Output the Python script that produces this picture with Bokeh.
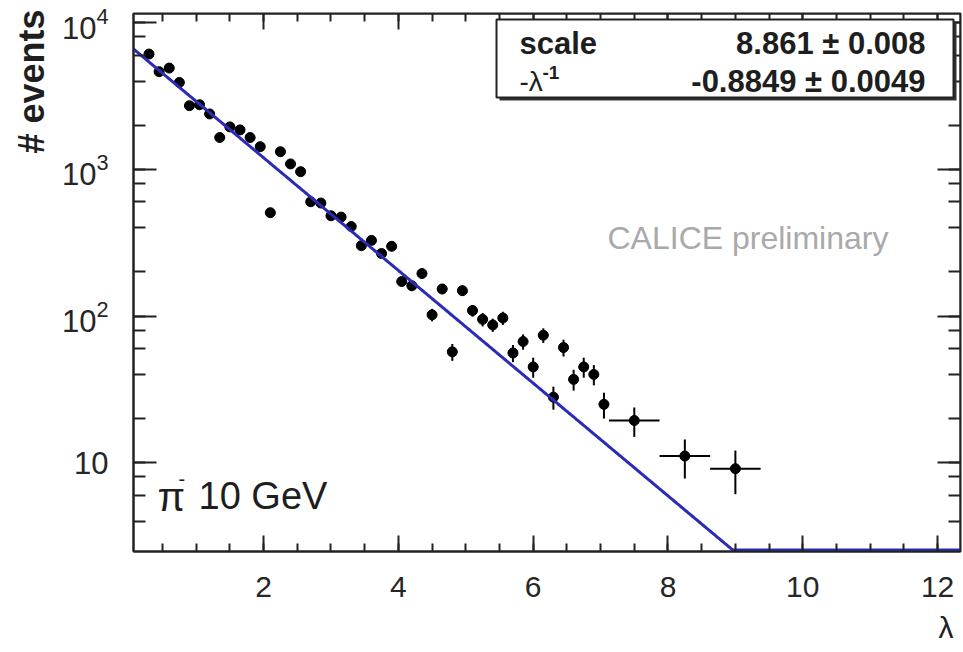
import math
import numpy as np
from bokeh.plotting import figure
from bokeh.models import (Range1d, LinearAxis, LogAxis, LogTicker, SingleIntervalTicker,
                          LogTickFormatter, Label, BoxAnnotation, CustomLabelingPolicy, Title)
from bokeh.embed import file_html
from bokeh.resources import INLINE

# ---------------- data ----------------
lam = [0.30, 0.45, 0.60, 0.75, 0.90, 1.05, 1.20, 1.35, 1.50, 1.65,
       1.80, 1.95, 2.10, 2.25, 2.40, 2.55, 2.70, 2.85, 3.00, 3.15,
       3.30, 3.45, 3.60, 3.75, 3.90, 4.05, 4.20, 4.35, 4.50, 4.65,
       4.80, 4.95, 5.10, 5.25, 5.40, 5.55, 5.70, 5.85, 6.00, 6.15,
       6.30, 6.45, 6.60, 6.75, 6.90, 7.05, 7.50, 8.25, 9.00]
events = [6120, 4640, 4910, 3920, 2720, 2760, 2390, 1650, 1950, 1860,
          1650, 1430, 507, 1320, 1090, 965, 602, 590, 483, 473,
          408, 302, 328, 267, 299, 172, 161, 195, 102, 153,
          57, 149, 109, 95, 87, 97, 56, 67, 45, 74,
          28, 61, 37, 45, 40, 25, 19.4, 11.1, 9.1]
events_err = [78, 68, 70, 63, 52, 53, 49, 41, 44, 43,
              41, 38, 23, 36, 33, 31, 25, 24, 22, 22,
              20, 17, 18, 16, 17, 13, 13, 14, 10, 12,
              7.5, 12, 10, 10, 9, 10, 7.5, 8, 7, 8.5,
              5.0, 8, 6, 7, 6.3, 5, 4.4, 3.3, 3.0]
bin_half_width = [0.075] * 46 + [0.375] * 3

# fit result shown in the stats box
fit_scale = 8.861
fit_scale_err = 0.008
fit_slope = -0.8849
fit_slope_err = 0.0049

x_ticks_major_step = 2
x_lo, x_hi = 0.07, 12.34
y_lo, y_hi = 2.48, 11570.0

# ---------------- figure ----------------
FONT = "Liberation Sans"
W, H = 963, 652
FL, FR, FT, FB = 133.0, 960.0, 13.0, 551.0
p = figure(width=W, height=H, x_range=Range1d(x_lo, x_hi), y_range=Range1d(y_lo, y_hi),
           y_axis_type="log", output_backend="svg", toolbar_location=None,
           min_border_left=int(FL), min_border_right=int(W - FR), min_border_top=int(FT),
           min_border_bottom=int(H - FB),
           background_fill_color="white", border_fill_color="white")
p.grid.visible = False
p.outline_line_color = "#222222"
p.outline_line_width = 2

LLO, LHI = math.log10(y_lo), math.log10(y_hi)
def px2x(px):
    return x_lo + (px - FL) / (FR - FL) * (x_hi - x_lo)
def py2y(py):
    return 10 ** (LHI - (py - FT) / (FB - FT) * (LHI - LLO))

AX_COL = "#222222"
LBL_COL = "#262626"
NO_LABELS = CustomLabelingPolicy(code="if (false) { yield 0 }")

def style_common(ax):
    ax.axis_line_color = AX_COL
    ax.axis_line_width = 2
    ax.major_tick_line_color = AX_COL
    ax.minor_tick_line_color = AX_COL
    ax.major_tick_line_width = 2
    ax.minor_tick_line_width = 2
    ax.major_tick_out = 0
    ax.minor_tick_out = 0

def style_x(ax, labels=True):
    ax.ticker = SingleIntervalTicker(interval=x_ticks_major_step, num_minor_ticks=4)
    style_common(ax)
    ax.major_tick_in = 16
    ax.minor_tick_in = 8
    if labels:
        ax.major_label_text_font = FONT
        ax.major_label_text_font_size = "30px"
        ax.major_label_text_color = LBL_COL
        ax.major_label_standoff = 25
    else:
        ax.major_label_policy = NO_LABELS
        ax.major_label_standoff = 0

def style_y(ax, labels=True):
    ax.ticker = LogTicker()
    style_common(ax)
    ax.major_tick_in = 23
    ax.minor_tick_in = 12
    if labels:
        ax.formatter = LogTickFormatter()
        ax.major_label_overrides = {10: "10"}
        ax.major_label_text_font = FONT
        ax.major_label_text_font_size = "31px"
        ax.major_label_text_color = LBL_COL
        ax.major_label_standoff = 25
    else:
        ax.major_label_policy = NO_LABELS
        ax.major_label_standoff = 0

style_x(p.xaxis[0])
style_y(p.yaxis[0])
top_ax = LinearAxis(fixed_location=y_hi)
style_x(top_ax, labels=False)
p.add_layout(top_ax, "above")
right_ax = LogAxis(fixed_location=x_hi)
style_y(right_ax, labels=False)
p.add_layout(right_ax, "right")

# axis titles, placed at the far ends like ROOT does
p.add_layout(Title(text="# events", align="right", text_font=FONT, text_font_size="36px",
                   text_font_style="bold", text_color="#1e1e1e", offset=-4, standoff=14), "left")
p.add_layout(Title(text="\u03bb", align="right", text_font=FONT, text_font_size="30px",
                   text_font_style="normal", text_color="#1e1e1e", offset=7, standoff=18),
             "below")

# ---------------- data points with error bars ----------------
lam_a = np.array(lam)
ev_a = np.array(events)
er_a = np.array(events_err)
hw_a = np.array(bin_half_width)

p.segment(x0=lam_a, y0=ev_a - er_a, x1=lam_a, y1=ev_a + er_a, line_color="black", line_width=2)
p.segment(x0=lam_a - hw_a, y0=ev_a, x1=lam_a + hw_a, y1=ev_a, line_color="black", line_width=2)
p.scatter(lam_a, ev_a, size=10, marker="circle", fill_color="black", line_color="black")

# ---------------- fit line (clipped to the frame floor like ROOT) ----------------
xf = np.linspace(x_lo, x_hi, 600)
yf = np.exp(fit_scale + fit_slope * xf)
yf = np.maximum(yf, y_lo * 1.025)
p.line(xf, yf, line_color="#2b2bb5", line_width=3)

# ---------------- stats box ----------------
shadow = BoxAnnotation(left=px2x(499), right=px2x(956), top=py2y(22), bottom=py2y(100),
                       fill_color="#333333", fill_alpha=1, line_alpha=0)
p.add_layout(shadow)
box = BoxAnnotation(left=px2x(496), right=px2x(953), top=py2y(19), bottom=py2y(97),
                    fill_color="white", fill_alpha=1, line_color="#222222", line_alpha=1,
                    line_width=2)
p.add_layout(box)

def lab(px, py, text, size, align="left", baseline="middle", style="normal",
        color="#1e1e1e"):
    p.add_layout(Label(x=px2x(px), y=py2y(py), text=text, text_font=FONT,
                       text_font_size=f"{size}px", text_align=align, text_baseline=baseline,
                       text_font_style=style, text_color=color))

lab(519, 43, "scale", 31, style="bold")
lab(925, 43, f"{fit_scale:.3f} \u00b1 {fit_scale_err:.3f}", 31, align="right", style="bold")
lab(519, 81, "-\u03bb", 28)
lab(542, 72, "-1", 19, style="bold")
lab(925, 81, f"{fit_slope:.4f} \u00b1 {fit_slope_err:.4f}", 31, align="right", style="bold")

# ---------------- other texts ----------------
lab(607, 237, "CALICE preliminary", 32, color="#a9a9a9")
lab(157, 496, "\u03c0", 40)
lab(178, 478, "-", 20)
lab(198, 495, "10 GeV", 38)

open("out.html", "w").write(file_html(p, INLINE))
